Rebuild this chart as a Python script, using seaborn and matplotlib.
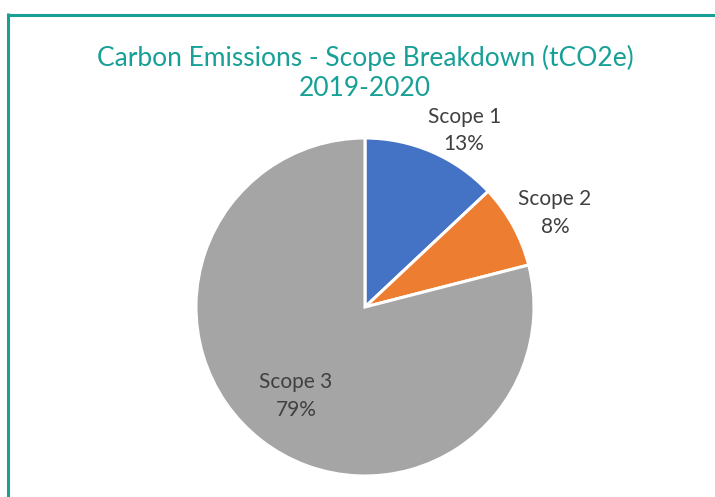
import matplotlib
matplotlib.use("Agg")
import matplotlib.pyplot as plt
from matplotlib.lines import Line2D
import numpy as np
import seaborn as sns

# Scope breakdown of carbon emissions, 2019-2020 (share of tCO2e, %)
categories = ["Scope 1", "Scope 2", "Scope 3"]
shares = [13, 8, 79]
colors = ["#4472C4", "#ED7D31", "#A5A5A5"]
# label placement: radial distance along the wedge mid-angle, then a sideways nudge
label_radius = [1.14, 1.154, 0.667]
label_nudge_x = [0.134, 0.113, 0.0]

title_text = "Carbon Emissions - Scope Breakdown (tCO2e)\n2019-2020"
teal = "#17A096"
text_grey = "#404040"

sns.set_theme(style="white")
plt.rcParams["font.family"] = ["Lato", "DejaVu Sans"]

W, H = 715, 497
fig = plt.figure(figsize=(W / 100, H / 100), dpi=100)
fig.patch.set_facecolor("white")

# pie centred at (365, 307) px with radius 169 px
cx, cy, r = 365, 307, 169
ax = fig.add_axes([(cx - r) / W, (H - cy - r) / H, 2 * r / W, 2 * r / H])

wedges, _ = ax.pie(
    shares,
    colors=colors,
    startangle=90,
    counterclock=False,
    wedgeprops=dict(edgecolor="white", linewidth=2.2),
)
ax.set_xlim(-1, 1)
ax.set_ylim(-1, 1)
ax.set_aspect("equal")
ax.axis("off")

# category + percentage labels at each wedge's mid-angle
for w, name, val, d, nx in zip(wedges, categories, shares, label_radius, label_nudge_x):
    mid = np.deg2rad((w.theta1 + w.theta2) / 2)
    ax.text(d * np.cos(mid) + nx, d * np.sin(mid), f"{name}\n{val}%",
            ha="center", va="center", fontsize=15, color=text_grey,
            linespacing=1.45, clip_on=False)

fig.text(365 / W, 1 - 73 / H, title_text, ha="center", va="center",
         fontsize=19, color=teal, linespacing=1.25)

# teal frame along the top and left edges
fig.add_artist(Line2D([7.5 / W, 1.01], [1 - 14.5 / H, 1 - 14.5 / H],
                      transform=fig.transFigure, color=teal, linewidth=2.2,
                      solid_capstyle="butt"))
fig.add_artist(Line2D([7.5 / W, 7.5 / W], [1 - 13 / H, -0.01],
                      transform=fig.transFigure, color=teal, linewidth=2.2,
                      solid_capstyle="butt"))

fig.savefig("out.png", dpi=100, facecolor="white")
